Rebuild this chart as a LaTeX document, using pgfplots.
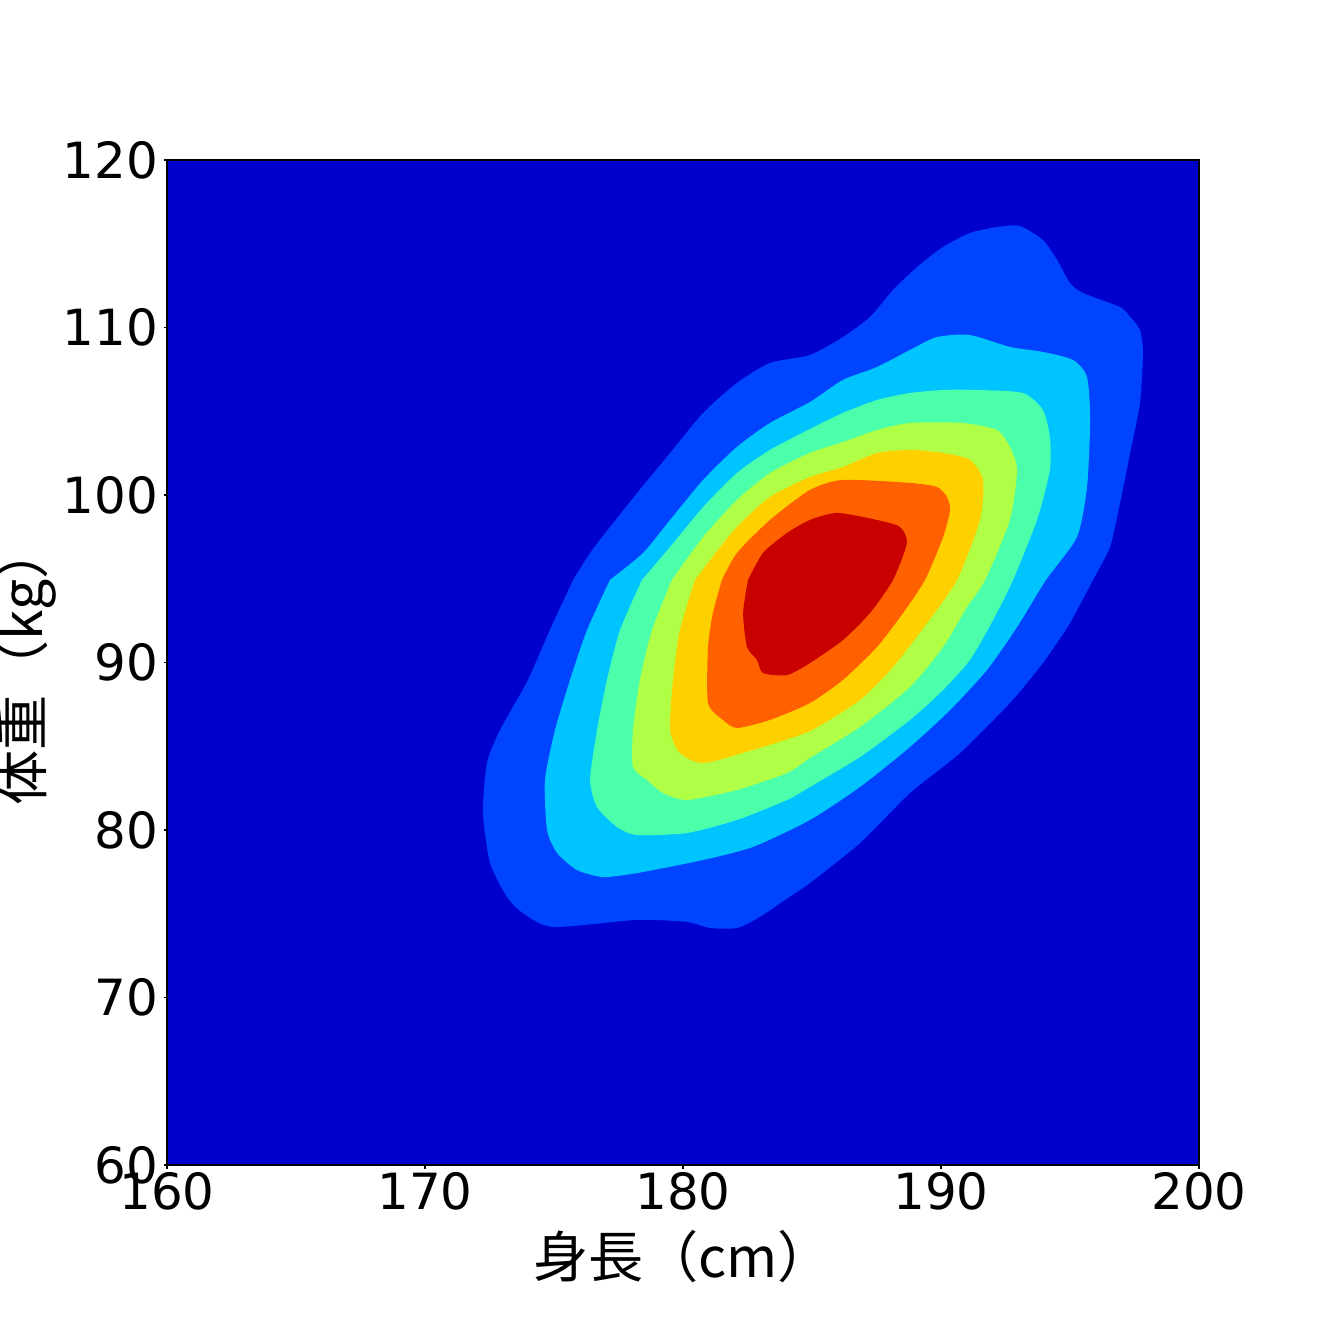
\documentclass[border=0pt]{standalone}
\usepackage{fontspec}
\setmainfont{DejaVu Sans}
\newfontfamily\cjk{Noto Sans CJK JP}
\usepackage{pgfplots}
\pgfplotsset{compat=1.18}
\definecolor{c0}{RGB}{0,0,204}
\definecolor{c1}{RGB}{0,68,255}
\definecolor{c2}{RGB}{0,196,255}
\definecolor{c3}{RGB}{76,255,170}
\definecolor{c4}{RGB}{176,255,70}
\definecolor{c5}{RGB}{255,208,0}
\definecolor{c6}{RGB}{255,96,0}
\definecolor{c7}{RGB}{200,0,0}
\begin{document}
\begin{tikzpicture}
\path[use as bounding box] (-1.67,-1.67) rectangle (11.65,11.65);
\begin{axis}[
  at={(0,0)}, anchor=south west,
  scale only axis, width=10.32cm, height=10.05cm,
  xmin=160, xmax=200, ymin=60, ymax=120,
  xtick={160,170,180,190,200}, ytick={60,70,80,90,100,110,120},
  axis background/.style={fill=c0},
  axis on top,
  axis line style={line width=0.3pt, black},
  tick style={black, line width=0.3pt},
  major tick length=0.35mm,
  tick align=outside,
  xtick pos=bottom, ytick pos=left,
  /pgf/number format/assume math mode=true,
  ticklabel style={font=\fontsize{14.2}{17}\selectfont},
  xticklabel style={inner sep=0pt, yshift=-0.3mm},
  yticklabel style={inner sep=0pt, xshift=-0.5mm},
  xlabel={\cjk 身長（cm）},
  ylabel={\cjk 体重（kg）},
  label style={font=\fontsize{15.7}{18}\selectfont},
  xlabel style={at={(axis description cs:0.5,-0.0915)}, anchor=center},
  ylabel style={at={(axis description cs:-0.1367,0.4976)}, anchor=center, rotate=0},
]
\addplot[fill=c1, draw=none, smooth, tension=0.4] coordinates {
(175.74,94.93) (176.40,96.54) (177.17,98.09) (178.22,100.12) (179.50,102.51) (180.78,104.90) (182.09,106.69) (183.37,107.88) (184.92,108.36) (186.20,109.43) (187.25,110.63) (188.14,112.24) (189.07,113.61) (190.08,114.81) (191.12,115.64) (192.17,116.00) (193.06,116.06) (193.95,115.22) (194.50,114.03) (195.00,112.66) (195.50,112.06) (196.94,111.22) (197.33,110.63) (197.71,109.85) (197.83,108.48) (197.71,105.49) (197.33,102.51) (196.94,99.52) (196.55,96.90) (195.89,94.93) (195.00,92.36) (193.95,89.97) (192.67,87.58) (190.74,84.60) (188.80,82.21) (186.86,79.22) (184.92,76.84) (183.95,75.82) (182.98,74.81) (182.09,74.15) (181.05,74.15) (180.16,74.51) (178.22,74.63) (174.96,74.21) (173.80,75.04) (173.18,76.00) (172.52,78.03) (172.25,81.01) (172.40,84.00) (172.91,85.97) (173.99,88.96) (174.84,91.94) (175.74,94.93)
};
\addplot[fill=c2, draw=none, smooth, tension=0.4] coordinates {
(177.17,94.93) (178.45,96.54) (179.50,98.51) (180.78,100.90) (182.09,102.87) (183.37,104.30) (184.92,105.55) (186.20,106.87) (187.52,107.64) (188.80,108.66) (189.84,109.43) (191.12,109.55) (192.67,108.84) (193.95,108.54) (195.12,108.06) (195.66,107.04) (195.78,104.48) (195.66,100.48) (195.27,97.49) (194.07,94.93) (192.95,92.12) (191.78,89.55) (190.35,87.16) (188.80,84.96) (186.86,82.57) (184.92,80.60) (182.71,78.99) (180.78,78.21) (178.22,77.43) (176.90,77.19) (175.89,77.61) (175.12,78.63) (174.73,80.00) (174.65,82.99) (175.04,85.97) (175.62,88.96) (176.28,91.94) (177.17,94.93)
};
\addplot[fill=c3, draw=none, smooth, tension=0.4] coordinates {
(178.41,94.93) (179.50,96.90) (180.78,99.28) (182.09,101.31) (183.37,102.69) (184.92,103.94) (186.20,104.90) (187.52,105.67) (188.80,106.09) (190.08,106.27) (191.40,106.27) (193.18,106.09) (193.95,105.07) (194.22,103.46) (194.22,101.49) (193.72,98.51) (192.79,94.93) (192.02,92.54) (191.12,90.15) (190.08,88.36) (188.80,86.57) (186.86,84.36) (184.92,82.57) (184.03,81.79) (182.09,80.60) (180.16,79.82) (178.22,79.70) (177.44,80.18) (176.67,81.37) (176.40,82.99) (176.67,85.97) (177.05,88.96) (177.56,91.94) (178.41,94.93)
};
\addplot[fill=c4, draw=none, smooth, tension=0.4] coordinates {
(179.57,94.93) (180.78,97.49) (182.09,99.70) (183.37,101.31) (184.92,102.51) (186.20,103.16) (187.52,103.88) (188.80,104.30) (190.85,104.30) (192.17,103.88) (192.67,102.87) (192.95,101.49) (192.67,98.51) (191.71,94.93) (191.01,93.31) (190.08,90.93) (188.80,88.54) (186.86,86.15) (184.92,84.30) (184.03,83.40) (182.09,82.39) (180.16,81.79) (179.22,82.21) (178.60,82.99) (178.06,83.76) (178.06,85.97) (178.33,88.96) (178.80,91.94) (179.57,94.93)
};
\addplot[fill=c5, draw=none, smooth, tension=0.4] coordinates {
(180.47,94.93) (181.05,96.12) (182.09,98.09) (183.37,99.88) (184.92,101.07) (186.20,101.67) (187.52,102.51) (188.80,102.69) (190.08,102.51) (191.12,102.09) (191.63,100.90) (191.51,98.51) (190.62,94.93) (189.46,92.36) (188.14,89.73) (186.86,87.76) (184.92,85.91) (182.71,84.78) (180.78,84.00) (179.88,84.60) (179.50,85.97) (179.61,88.96) (179.88,91.94) (180.47,94.93)
};
\addplot[fill=c6, draw=none, smooth, tension=0.4] coordinates {
(181.51,94.93) (182.09,96.54) (183.37,98.51) (184.92,100.30) (186.20,100.90) (188.80,100.72) (189.84,100.48) (190.23,99.88) (190.35,99.10) (190.08,97.49) (189.38,94.93) (188.53,92.96) (187.52,90.93) (186.20,88.96) (184.92,87.58) (183.37,86.57) (182.09,86.09) (181.55,86.57) (180.97,87.58) (180.97,90.93) (181.16,92.96) (181.51,94.93)
};
\addplot[fill=c7, draw=none, smooth, tension=0.4] coordinates {
(182.52,94.93) (183.10,96.54) (184.03,97.73) (184.92,98.51) (185.97,98.93) (187.52,98.51) (188.41,98.09) (188.68,97.13) (188.14,94.93) (187.25,92.96) (186.20,91.34) (184.92,89.97) (184.03,89.25) (183.10,89.37) (182.87,90.15) (182.48,90.93) (182.33,92.96) (182.52,94.93)
};
\end{axis}
\end{tikzpicture}
\end{document}
